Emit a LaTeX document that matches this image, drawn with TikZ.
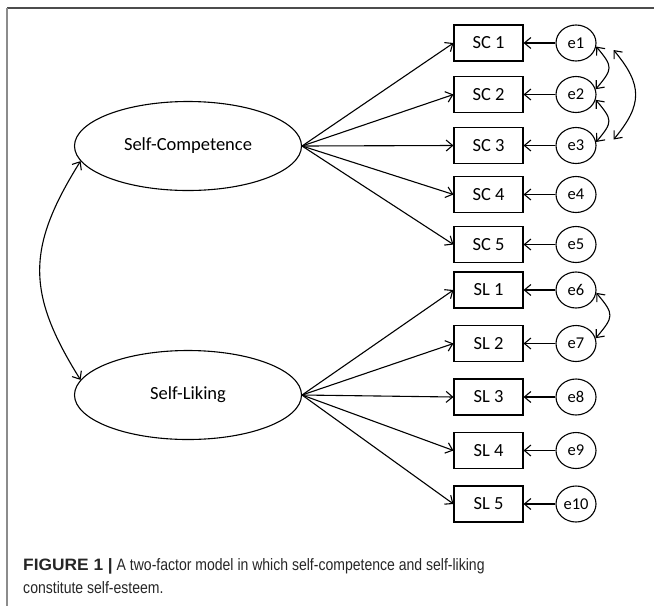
\documentclass[tikz,border=0pt]{standalone}
\usepackage{fontspec}
\usepackage{xcolor}
\setmainfont{Carlito}
\newfontfamily\capfont[FakeStretch=0.85]{Liberation Sans}
\newfontfamily\capbold[FakeStretch=1.05]{Liberation Sans}
\usepackage{tikz}
\usetikzlibrary{positioning, shapes.geometric, arrows.meta}

\begin{document}
\begin{tikzpicture}[x=1pt, y=1pt, on grid, line width=1.1pt,
    >={Straight Barb[length=6.5pt,width=11pt]},
    latent/.style={ellipse, draw, minimum width=227pt, minimum height=89pt, inner sep=0pt, font=\fontsize{18.5}{22}\selectfont},
    obs/.style={rectangle, draw, minimum width=69pt, minimum height=36pt, inner sep=0pt, font=\fontsize{18.5}{22}\selectfont},
    err/.style={ellipse, draw, minimum width=40pt, minimum height=36pt, inner sep=0pt, font=\fontsize{16.5}{20}\selectfont},
    cov/.style={<->, out=-50, in=50, looseness=1.6}]
        \useasboundingbox (0,0) rectangle (654,-606);
        % frame
        \draw[black!70, line width=1.3pt] (7,-8) -- (654,-8);
        \draw[black!45, line width=2pt] (7,-8) -- (7,-606);

        \node[latent] (SC) at (188,-146) {Self-Competence};
        \node[latent] (SL) at (188,-395) {Self-Liking};

        \node[obs] (SC1) at (488.5,-43) {SC 1};
        \node[obs] (SC2) [below=51.5pt of SC1] {SC 2};
        \node[obs] (SC3) [below=51pt of SC2] {SC 3};
        \node[obs] (SC4) [below=49pt of SC3] {SC 4};
        \node[obs] (SC5) [below=50pt of SC4] {SC 5};
        \node[obs] (SL1) at (488.5,-290) {SL 1};
        \node[obs] (SL2) [below=53.5pt of SL1] {SL 2};
        \node[obs] (SL3) [below=53.5pt of SL2] {SL 3};
        \node[obs] (SL4) [below=53.5pt of SL3] {SL 4};
        \node[obs] (SL5) [below=53.5pt of SL4] {SL 5};

        \node[err] (e1) [right=87.5pt of SC1] {e1};
        \node[err] (e2) [right=87.5pt of SC2] {e2};
        \node[err] (e3) [right=87.5pt of SC3] {e3};
        \node[err] (e4) [right=87.5pt of SC4] {e4};
        \node[err] (e5) [right=87.5pt of SC5] {e5};
        \node[err] (e6) [right=87.5pt of SL1] {e6};
        \node[err] (e7) [right=87.5pt of SL2] {e7};
        \node[err] (e8) [right=87.5pt of SL3] {e8};
        \node[err] (e9) [right=87.5pt of SL4] {e9};
        \node[err] (e10) [right=87.5pt of SL5] {e10};

        \path[->]
        (SC.east) edge (SC1.west)
                  edge (SC2.west)
                  edge (SC3.west)
                  edge (SC4.west)
                  edge (SC5.west)
        (SL.east) edge (SL1.west)
                  edge (SL2.west)
                  edge (SL3.west)
                  edge (SL4.west)
                  edge (SL5.west);

        \path[->]
        (e1) edge (SC1)
        (e2) edge (SC2)
        (e3) edge (SC3)
        (e4) edge (SC4)
        (e5) edge (SC5)
        (e6) edge (SL1)
        (e7) edge (SL2)
        (e8) edge (SL3)
        (e9) edge (SL4)
        (e10) edge (SL5);

        % covariances
        \draw[<->] (SC.188) to[out=238, in=122, looseness=1.2] (SL.172);
        \draw[cov] (e1.-10) to (e2.15);
        \draw[cov] (e2.-15) to (e3.10);
        \draw[cov] (e6.-8) to (e7.15);
        \draw[<->] ([shift={(17pt,-7pt)}]e1.east) to[out=-50, in=50, looseness=1.3] ([shift={(17pt,6pt)}]e3.east);

        % caption
        \node[anchor=base west, inner sep=0pt, text=black!85, font=\capfont\fontsize{16.5}{23}\selectfont] (cap1) at (22.7,-570)
            {{\capbold\bfseries FIGURE 1 |} A two-factor model in which self-competence and self-liking};
        \node[anchor=base west, inner sep=0pt, text=black!85, font=\capfont\fontsize{16.5}{23}\selectfont] (cap2) at (22.7,-593)
            {constitute self-esteem.};
    \end{tikzpicture}
\end{document}
